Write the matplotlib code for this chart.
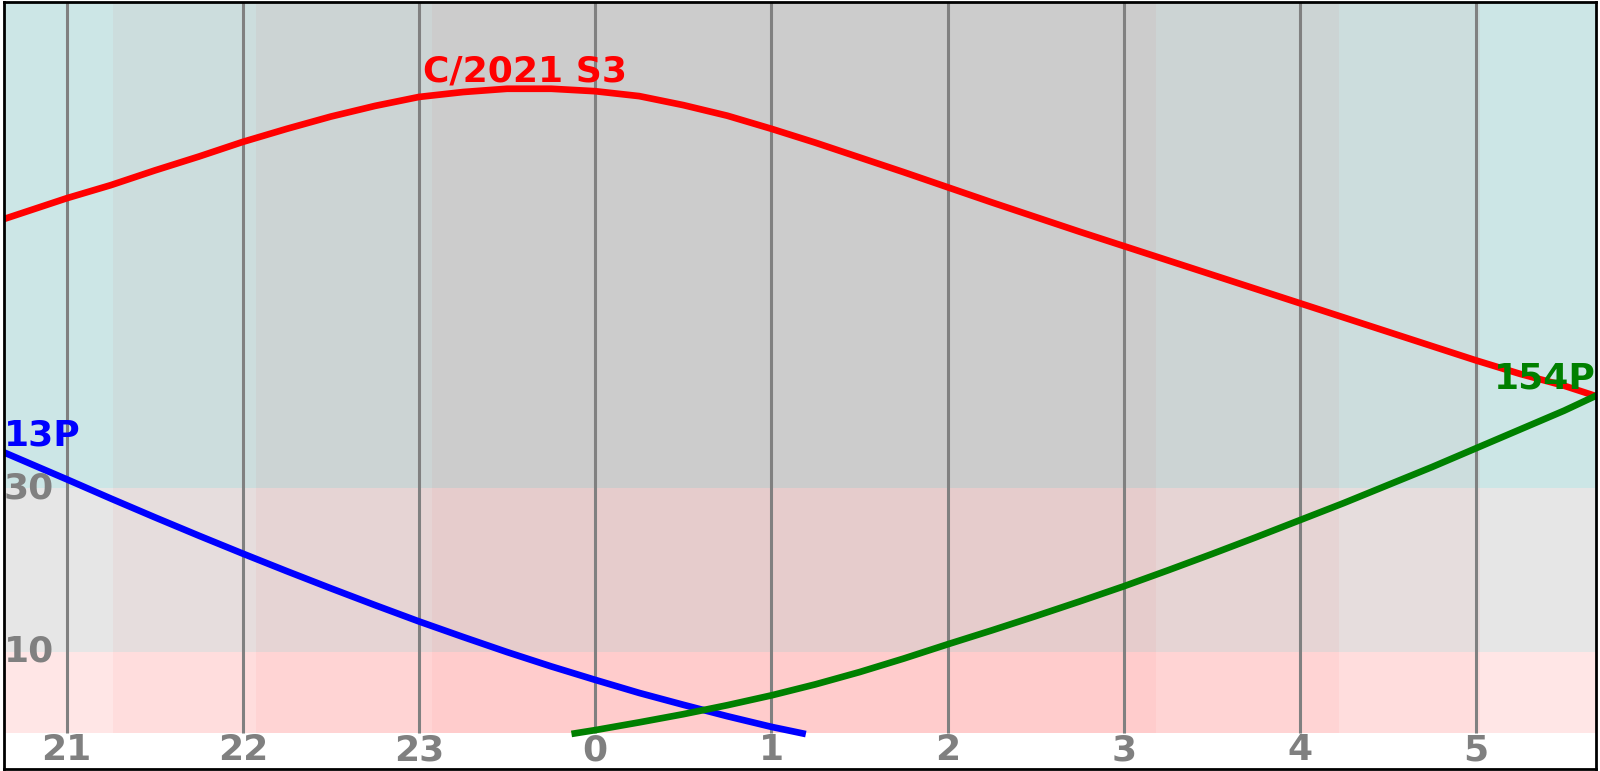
import matplotlib.pyplot as plt

# hour axis runs continuously past midnight (24 -> 0, 25 -> 1, ...)
hour_ticks = [21, 22, 23, 24, 25, 26, 27, 28, 29]
hour_labels = [str(h % 24) for h in hour_ticks]

# twilight stages: edges in hours, darkness level per segment (0 light .. 3 night)
twilight_edges = [20.643, 21.261, 22.073, 23.072, 27.182, 28.222, 29.023, 29.678]
twilight_level = [0, 1, 2, 3, 2, 1, 0]
# altitude bands (deg)
alt_edges = [0, 10, 30, 90]
alt_labels = [10, 30]

# C/2021 S3
s3_hours = [20.643, 21.0, 21.25, 21.5, 21.75, 22.0, 22.25, 22.5, 22.75, 23.0,
            23.25, 23.5, 23.75, 24.0, 24.25, 24.5, 24.75, 25.0, 25.25, 25.5,
            25.75, 26.0, 26.25, 26.5, 26.75, 27.0, 27.25, 27.5, 27.75, 28.0,
            28.25, 28.5, 28.75, 29.0, 29.25, 29.5, 29.678]
s3_alt = [62.95, 65.5, 67.1, 68.9, 70.6, 72.4, 74.0, 75.5, 76.8, 77.9,
          78.5, 78.9, 78.9, 78.6, 78.0, 76.9, 75.6, 74.0, 72.3, 70.5,
          68.7, 66.85, 65.0, 63.2, 61.4, 59.65, 57.9, 56.15, 54.4, 52.65,
          50.9, 49.15, 47.4, 45.65, 44.0, 42.55, 41.3]

# 13P
p13_hours = [20.643, 21.0, 21.25, 21.5, 21.75, 22.0, 22.25, 22.5, 22.75, 23.0,
             23.25, 23.5, 23.75, 24.0, 24.25, 24.5, 24.75, 25.0, 25.177]
p13_alt = [34.4, 31.1, 28.75, 26.45, 24.2, 22.0, 19.85, 17.75, 15.7, 13.7,
           11.8, 9.95, 8.2, 6.55, 4.95, 3.5, 2.1, 0.8, 0.0]

# 154P
p154_hours = [23.884, 24.0, 24.25, 24.5, 24.75, 25.0, 25.25, 25.5, 25.75, 26.0,
              26.25, 26.5, 26.75, 27.0, 27.25, 27.5, 27.75, 28.0, 28.25, 28.5,
              28.75, 29.0, 29.25, 29.5, 29.678]
p154_alt = [0.0, 0.4, 1.35, 2.35, 3.45, 4.65, 6.0, 7.5, 9.15, 10.9,
            12.6, 14.35, 16.15, 18.0, 19.95, 21.95, 24.0, 26.1, 28.2, 30.4,
            32.6, 34.9, 37.2, 39.5, 41.3]

# red channel set by altitude band, green/blue by twilight level
band_red = [255, 230, 204]
level_gb = [230, 221, 212, 204]

fig = plt.figure(figsize=(16, 7.71), dpi=100)
ax = fig.add_axes([0.00238, 0.00195, 0.99481, 0.9961])
ax.set_xlim(twilight_edges[0], twilight_edges[-1])
ax.set_ylim(-4.42, 89.58)

for i, lvl in enumerate(twilight_level):
    x0, x1 = twilight_edges[i], twilight_edges[i + 1]
    for j in range(len(alt_edges) - 1):
        c = (band_red[j] / 255, level_gb[lvl] / 255, level_gb[lvl] / 255)
        ax.fill_between([x0, x1], alt_edges[j], alt_edges[j + 1],
                        color=c, lw=0, antialiased=False, zorder=0)

ax.vlines(hour_ticks, 0, 90, colors='gray', lw=2.2, zorder=1)

ax.plot(s3_hours, s3_alt, color='red', lw=4.8, zorder=2)
ax.plot(p13_hours, p13_alt, color='blue', lw=4.8, zorder=2)
ax.plot(p154_hours, p154_alt, color='green', lw=4.8, zorder=2)

fs = 26
ax.text(23.6, max(s3_alt), 'C/2021 S3', color='red', fontsize=fs,
        fontweight='bold', ha='center', va='bottom', zorder=3)
ax.text(p13_hours[0], p13_alt[0], '13P', color='blue', fontsize=fs,
        fontweight='bold', ha='left', va='bottom', zorder=3)
ax.text(p154_hours[-1], p154_alt[-1], '154P', color='green', fontsize=fs,
        fontweight='bold', ha='right', va='bottom', zorder=3)

for h, lab in zip(hour_ticks, hour_labels):
    ax.text(h, 0, lab, color='gray', fontsize=fs, fontweight='bold',
            ha='center', va='top', zorder=3)
for a in alt_labels:
    ax.text(twilight_edges[0], a, str(a), color='gray', fontsize=fs,
            fontweight='bold', ha='left', va='center', zorder=3)

ax.set_xticks([])
ax.set_yticks([])
for sp in ax.spines.values():
    sp.set_linewidth(2)
    sp.set_color('black')

fig.savefig('out.png', dpi=100)
